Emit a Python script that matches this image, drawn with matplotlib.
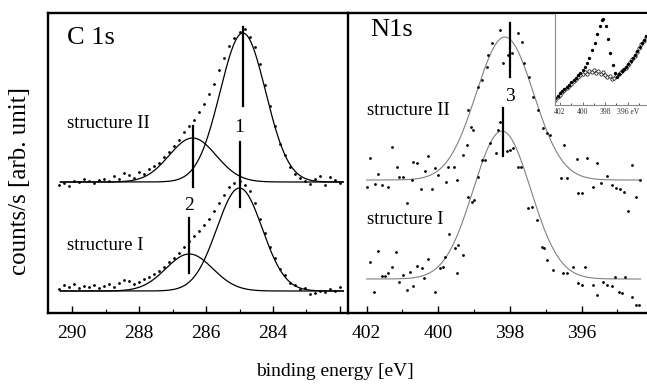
import numpy as np
import matplotlib
matplotlib.use("Agg")
import matplotlib.pyplot as plt
from matplotlib.ticker import MultipleLocator

plt.rcParams["font.family"] = ["Liberation Serif", "DejaVu Serif"]

# ---- C 1s data (binding energy grid, counts in arb. units) ----
c1s_energy = np.linspace(290.4, 282.0, 57)
c1s_struct2 = [128, 130, 127, 132, 131, 134, 132, 130, 133, 134, 132, 137, 134, 140, 138,
               135, 141, 139, 144, 147, 150, 156, 161, 167, 173, 181, 187, 193, 201, 209,
               219, 229, 243, 255, 267, 275, 281, 284, 276, 266, 249, 228, 207, 187, 169,
               158, 146, 139, 135, 132, 129, 134, 137, 128, 136, 133, 130]
c1s_struct1 = [24, 28, 26, 29, 25, 27, 26, 28, 25, 27, 29, 26, 30, 33, 32,
               29, 31, 34, 36, 39, 42, 46, 51, 55, 60, 66, 72, 77, 82, 88,
               94, 102, 110, 118, 126, 130, 132, 128, 122, 110, 94, 80, 66, 55, 44,
               38, 30, 28, 24, 25, 19, 20, 22, 21, 24, 22, 26]

# fitted components: (centre eV, amplitude, sigma eV), baseline
c1s_fit2 = [(284.9, 149, 0.68), (286.4, 44, 0.70)]
c1s_base2 = 131
c1s_fit1 = [(285.0, 103, 0.68), (286.5, 37, 0.70)]
c1s_base1 = 22

# ---- N 1s data ----
n1s_struct2_e = [401.91, 401.99, 401.68, 401.77, 401.57, 401.41, 401.29, 401.15, 401.10, 400.99,
                 400.87, 400.73, 400.70, 400.59, 400.48, 400.37, 400.29, 400.18, 400.09, 400.01,
                 399.79, 399.73, 399.56, 399.48, 399.70, 399.31, 399.20, 399.17, 399.09, 399.03,
                 398.89, 398.78, 398.64, 398.62, 398.50, 398.28, 398.20, 398.06, 397.95, 397.77,
                 397.66, 397.61, 397.47, 397.36, 397.21, 397.07, 396.96, 396.88, 396.57, 396.49,
                 396.40, 396.12, 396.10, 395.99, 395.85, 395.68, 395.57, 395.46, 395.29, 395.15,
                 395.04, 394.92, 394.81, 394.70, 394.59, 394.48, 394.37]
n1s_struct2_c = [155, 126, 139, 129, 128, 126, 166, 146, 136, 136,
                 110, 133, 151, 150, 124, 142, 157, 124, 145, 138,
                 131, 146, 146, 133, 79, 158, 168, 203, 186, 183,
                 226, 233, 246, 258, 270, 283, 250, 258, 260, 280,
                 271, 250, 236, 216, 203, 185, 180, 178, 135, 168,
                 135, 154, 120, 120, 155, 126, 150, 130, 137, 128,
                 125, 124, 121, 102, 148, 116, 133]
n1s_struct1_e = [401.91, 401.80, 401.68, 401.57, 401.49, 401.41, 401.29, 401.18, 401.10, 400.99,
                 400.87, 400.79, 400.70, 400.59, 400.45, 400.40, 400.29, 400.09, 399.95, 399.87,
                 399.81, 399.53, 399.48, 399.45, 399.31, 399.17, 399.06, 399.00, 398.89, 398.78,
                 398.70, 398.56, 398.39, 398.33, 398.28, 398.08, 398.00, 397.91, 397.77, 397.69,
                 397.49, 397.38, 397.24, 397.10, 397.06, 396.96, 396.80, 396.51, 396.40, 396.24,
                 396.10, 395.99, 395.90, 395.68, 395.57, 395.40, 395.29, 395.15, 395.06, 394.95,
                 394.87, 394.78, 394.59, 394.48, 394.39]
n1s_struct1_c = [51, 21, 62, 37, 37, 40, 46, 61, 31, 38,
                 23, 41, 27, 47, 45, 35, 54, 21, 45, 46,
                 56, 65, 40, 68, 58, 116, 111, 113, 136, 153,
                 153, 170, 160, 183, 191, 162, 163, 165, 146, 146,
                 105, 106, 93, 66, 65, 53, 43, 40, 40, 46,
                 30, 28, 46, 28, 18, 31, 28, 27, 36, 21,
                 20, 36, 16, 8, 8]

n1s_fit2 = (398.14, 143, 0.80)
n1s_base2 = 133
n1s_fit1 = (398.22, 148, 0.80)
n1s_base1 = 34

# ---- inset (N 1s overview) ----
inset_filled_e = [402.4, 402.2, 402.0, 401.8, 401.6, 401.4, 401.2, 401.0, 400.8, 400.6,
                  400.4, 400.2, 400.0, 399.8, 399.6, 399.4, 399.15, 398.9, 398.7, 398.5,
                  398.3, 398.15, 397.95, 397.75, 397.55, 397.35, 397.15, 396.95, 396.75, 396.55,
                  396.35, 396.15, 395.95, 395.75, 395.55, 395.35, 395.15, 394.95, 394.75, 394.55,
                  394.35]
inset_filled_c = [7, 9, 12, 14, 16, 18, 20, 23, 25, 27,
                  30, 32, 35, 38, 42, 48, 56, 63, 72, 80,
                  86, 87, 80, 67, 53, 40, 32, 28, 31, 34,
                  36, 38, 41, 44, 48, 51, 55, 59, 63, 66,
                  70]
inset_open_e = [402.4, 402.2, 402.0, 401.8, 401.6, 401.4, 401.2, 401.0, 400.8, 400.6,
                400.4, 400.2, 400.0, 399.8, 399.6, 399.4, 399.2, 399.0, 398.8, 398.6,
                398.4, 398.2, 398.0, 397.8, 397.6, 397.4, 397.2, 397.0, 396.8, 396.6,
                396.4, 396.2, 396.0, 395.8, 395.6, 395.4, 395.2, 395.0, 394.8, 394.6,
                394.4]
inset_open_c = [5, 8, 10, 13, 15, 17, 19, 21, 24, 26,
                28, 30, 31, 33, 31, 34, 33, 35, 32, 34,
                31, 33, 30, 28, 29, 26, 27, 29, 31, 33,
                35, 37, 40, 43, 47, 50, 54, 58, 62, 65,
                69]


def gauss(x, centre, amp, sigma):
    return amp * np.exp(-(x - centre) ** 2 / (2 * sigma ** 2))


W, H = 647, 387
fig = plt.figure(figsize=(W / 100, H / 100), dpi=100)
ax1 = fig.add_axes([48 / W, 74 / H, 300 / W, 300 / H])
ax2 = fig.add_axes([348 / W, 74 / H, 298 / W, 300 / H])
ax2.patch.set_alpha(0)

for ax in (ax1, ax2):
    ax.set_ylim(0, 300)
    ax.set_yticks([])
    for sp in ax.spines.values():
        sp.set_linewidth(1.7)
    ax.tick_params(axis="x", direction="in", length=5, width=1.0, labelsize=14, pad=9,
                   top=False)
    ax.tick_params(axis="x", which="minor", direction="in", length=3, width=0.8, top=False)
ax2.spines["right"].set_visible(False)
ax2.spines["left"].set_visible(False)

# ---- C 1s panel ----
ax1.set_xlim(290.72, 281.76)
ax1.set_xticks([290, 288, 286, 284, 282])
ax1.set_xticklabels(["290", "288", "286", "284", ""])
ax1.xaxis.set_minor_locator(MultipleLocator(1))

xf = np.linspace(290.35, 281.9, 400)
for fits, base in ((c1s_fit2, c1s_base2), (c1s_fit1, c1s_base1)):
    for c, a, s in fits:
        ax1.plot(xf, base + gauss(xf, c, a, s), color="black", lw=0.9)
ax1.plot(c1s_energy, c1s_struct2, "o", color="black", ms=2.0, mew=0)
ax1.plot(c1s_energy, c1s_struct1, "o", color="black", ms=2.0, mew=0)

# peak markers
ax1.plot([284.9, 284.9], [207, 286], color="black", lw=1.6)
ax1.plot([285.0, 285.0], [106, 171], color="black", lw=1.6)
ax1.plot([286.4, 286.4], [126, 187], color="black", lw=1.6)
ax1.plot([286.5, 286.5], [40, 95], color="black", lw=1.6)
ax1.text(285.0, 185, "1", fontsize=14, ha="center", va="center")
ax1.text(286.5, 107, "2", fontsize=14, ha="center", va="center")
ax1.text(290.15, 275, "C 1s", fontsize=19, ha="left", va="center")
ax1.text(290.15, 189, "structure II", fontsize=13.5, ha="left", va="center")
ax1.text(290.15, 67, "structure I", fontsize=13.5, ha="left", va="center")

# ---- N 1s panel ----
ax2.set_xlim(402.52, 394.2)
ax2.set_xticks([402, 400, 398, 396])
ax2.xaxis.set_minor_locator(MultipleLocator(1))

xn = np.linspace(402.0, 394.35, 400)
ax2.plot(xn, n1s_base2 + gauss(xn, *n1s_fit2), color="#808080", lw=0.8)
ax2.plot(xn, n1s_base1 + gauss(xn, *n1s_fit1), color="#808080", lw=0.8)
ax2.plot(n1s_struct2_e, n1s_struct2_c, "o", color="black", ms=2.0, mew=0)
ax2.plot(n1s_struct1_e, n1s_struct1_c, "o", color="black", ms=2.0, mew=0)
ax2.plot([398.0, 398.0], [236, 290], color="black", lw=1.6)
ax2.plot([398.2, 398.2], [157, 205], color="black", lw=1.6)
ax2.text(398.0, 216, "3", fontsize=14, ha="center", va="center")
ax2.text(401.9, 283, "N1s", fontsize=19, ha="left", va="center")
ax2.text(402.0, 202, "structure II", fontsize=13.5, ha="left", va="center")
ax2.text(402.0, 93, "structure I", fontsize=13.5, ha="left", va="center")

# ---- inset ----
axi = fig.add_axes([555 / W, (H - 105) / H, 92 / W, 91 / H])
axi.set_xlim(402.44, 394.3)
axi.set_ylim(0, 92)
axi.plot(inset_open_e, inset_open_c, "o", ms=2.4, mfc="white", mec="black", mew=0.5)
axi.plot(inset_filled_e, inset_filled_c, "o", ms=2.4, color="black", mew=0)
axi.set_yticks([])
axi.set_xticks([402, 400, 398, 396])
axi.set_xticklabels(["402", "400", "398", "396 eV"])
axi.xaxis.set_minor_locator(MultipleLocator(1))
axi.tick_params(axis="x", direction="in", length=2, width=0.5, labelsize=5.5, pad=2,
                colors="#333333")
axi.tick_params(axis="x", which="minor", direction="in", length=1.5, width=0.5)
for name, sp in axi.spines.items():
    sp.set_color("#888888")
    sp.set_linewidth(0.8)
axi.spines["top"].set_visible(False)
axi.spines["right"].set_visible(False)

fig.text(0.031, 0.532, "counts/s [arb. unit]", rotation=90, fontsize=18,
         ha="center", va="center")
fig.text(0.518, 0.039, "binding energy [eV]", fontsize=14, ha="center", va="center")

fig.savefig("out.png", dpi=100)
